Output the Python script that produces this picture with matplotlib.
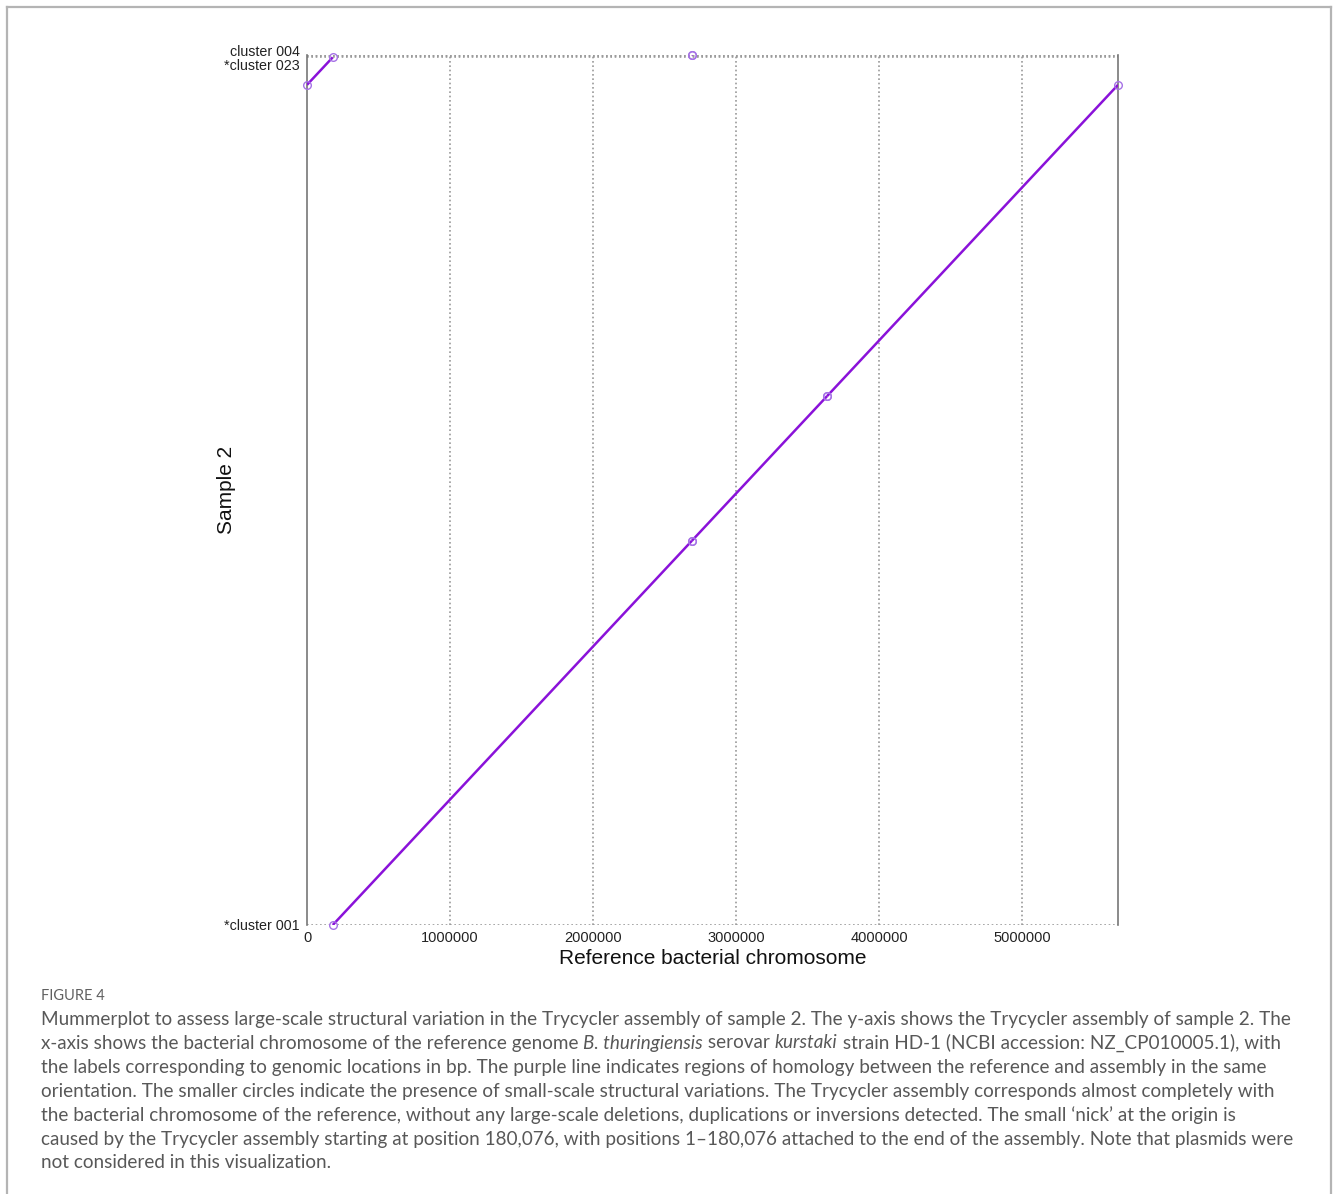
import matplotlib
matplotlib.use("Agg")
import matplotlib.pyplot as plt
from matplotlib.lines import Line2D
import matplotlib.transforms as mtransforms

# ---------------- data ----------------
ref_length = 5671000          # reference chromosome length (bp)
y_top = 5686000               # total assembly axis extent
# alignment segments: (ref_start, ref_end, qry_start, qry_end)
seg_ref_start = [180076, 2692000, 3636000, 0, 2690000]
seg_ref_end = [2692000, 3636000, ref_length, 180076, 2693000]
seg_qry_start = [0, 2511924, 3455924, 5490924, 5683000]
seg_qry_end = [2511924, 3455924, 5490924, 5671000, 5686000]

xtick_vals = [0, 1000000, 2000000, 3000000, 4000000, 5000000]
xtick_labels = ["0", "1000000", "2000000", "3000000", "4000000", "5000000"]
ytick_vals = [0, 5671000, 5680000]
ytick_labels = ["*cluster 001", "*cluster 023", "cluster 004"]

caption_title = "FIGURE 4"
caption_lines = [
    [("Mummerplot to assess large-scale structural variation in the Trycycler assembly of sample 2. The y-axis shows the Trycycler assembly of sample 2. The", "normal")],
    [("x-axis shows the bacterial chromosome of the reference genome ", "normal"),
     ("B. thuringiensis", "italic"), (" serovar ", "normal"), ("kurstaki", "italic"),
     (" strain HD-1 (NCBI accession: NZ_CP010005.1), with", "normal")],
    [("the labels corresponding to genomic locations in bp. The purple line indicates regions of homology between the reference and assembly in the same", "normal")],
    [("orientation. The smaller circles indicate the presence of small-scale structural variations. The Trycycler assembly corresponds almost completely with", "normal")],
    [("the bacterial chromosome of the reference, without any large-scale deletions, duplications or inversions detected. The small \u2018nick\u2019 at the origin is", "normal")],
    [("caused by the Trycycler assembly starting at position 180,076, with positions 1\u2013180,076 attached to the end of the assembly. Note that plasmids were", "normal")],
    [("not considered in this visualization.", "normal")],
]

# ---------------- figure ----------------
W, H = 1333, 1194
fig = plt.figure(figsize=(W / 100, H / 100), dpi=100)
fig.patch.set_facecolor("white")

# outer frame (top, left, right)
frame_col = "#b4b4b4"
fig.add_artist(Line2D([7 / W, 7 / W], [0, 1 - 7 / H], transform=fig.transFigure, color=frame_col, lw=1.6))
fig.add_artist(Line2D([1331 / W, 1331 / W], [0, 1 - 7 / H], transform=fig.transFigure, color=frame_col, lw=1.6))
fig.add_artist(Line2D([7 / W, 1331 / W], [1 - 7 / H, 1 - 7 / H], transform=fig.transFigure, color=frame_col, lw=1.6))

ax_l, ax_r, ax_t, ax_b = 307, 1118, 55, 925
ax = fig.add_axes([ax_l / W, 1 - ax_b / H, (ax_r - ax_l) / W, (ax_b - ax_t) / H])
ax.set_xlim(0, ref_length)
ax.set_ylim(0, y_top)

for s in ["top", "bottom"]:
    ax.spines[s].set_visible(False)
for s in ["left", "right"]:
    ax.spines[s].set_color("#777777")
    ax.spines[s].set_linewidth(1.2)

grid_kw = dict(color="#999999", lw=1.2, ls=(0, (1, 1.6)), zorder=1)
for xv in xtick_vals[1:]:
    ax.axvline(xv, **grid_kw)
for yv in ytick_vals:
    ax.axhline(yv, **grid_kw)
ax.axhline(y_top, **grid_kw)

line_col = "#8a12d9"
circ_col = "#a672e6"
for xs, xe, ys, ye in zip(seg_ref_start, seg_ref_end, seg_qry_start, seg_qry_end):
    ax.plot([xs, xe], [ys, ye], color=line_col, lw=1.8, zorder=3, solid_capstyle="butt")
    ax.plot([xs, xe], [ys, ye], ls="none", marker="o", ms=5.5, mfc="none",
            mec=circ_col, mew=1.0, zorder=4, clip_on=False)

font = "Liberation Sans"
ax.set_xticks(xtick_vals)
ax.set_xticklabels(xtick_labels, fontsize=10.5, family=font, color="#222222")
ax.set_yticks(ytick_vals)
ax.set_yticklabels(ytick_labels, fontsize=10.3, family=font, color="#222222")
ax.tick_params(axis="both", length=0)
ax.tick_params(axis="y", pad=5)
ax.tick_params(axis="x", pad=4.5)

# separate the two closely spaced top y labels
ylabels = ax.get_yticklabels()
ylabels[1].set_transform(ylabels[1].get_transform() + mtransforms.ScaledTranslation(0, -0.07, fig.dpi_scale_trans))
ylabels[2].set_transform(ylabels[2].get_transform() + mtransforms.ScaledTranslation(0, 0.05, fig.dpi_scale_trans))

ax.set_xlabel("Reference bacterial chromosome", fontsize=15, family=font, color="#111111", labelpad=3)
ax.set_ylabel("Sample 2", fontsize=15, family=font, color="#111111")
ax.yaxis.set_label_coords(-0.088, 0.5)

# ---------------- caption ----------------
cap_font = "Lato"
cap_col = "#585858"
fig.text(41 / W, 1 - 996 / H, caption_title, fontsize=10.5, family=cap_font, color="#606060",
         va="center", ha="left")

renderer = fig.canvas.get_renderer()
y0 = 1019
dy = 24
for i, pieces in enumerate(caption_lines):
    xpx = 41
    ypx = y0 + i * dy
    for txt, style in pieces:
        t = fig.text(xpx / W, 1 - ypx / H, txt, fontsize=13.6, family=cap_font, color=cap_col,
                     style=style, va="center", ha="left")
        bb = t.get_window_extent(renderer=renderer)
        xpx += bb.width

fig.savefig("out.png", dpi=100, facecolor="white")
